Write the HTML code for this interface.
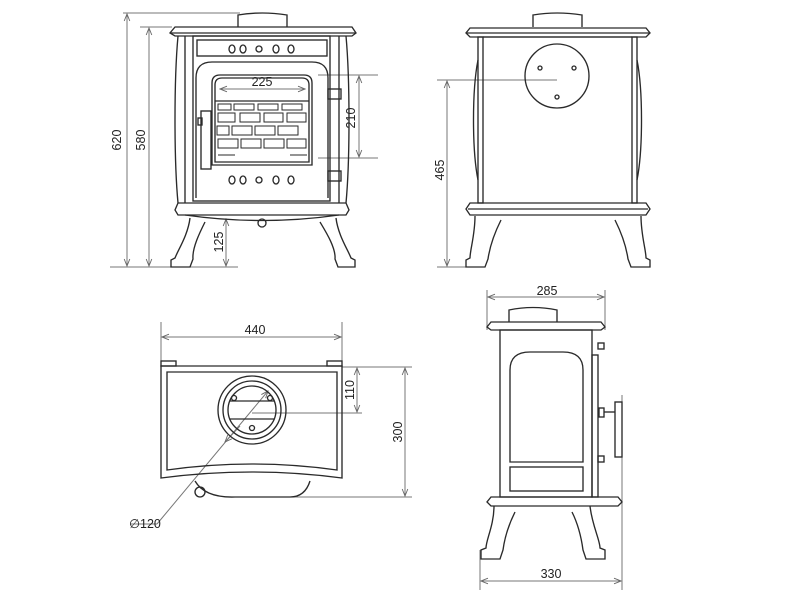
<!DOCTYPE html>
<html><head><meta charset="utf-8"><style>html,body{margin:0;padding:0;background:#fff}svg{display:block}</style></head>
<body>
<svg width="800" height="600" viewBox="0 0 800 600" xmlns="http://www.w3.org/2000/svg" font-family="Liberation Sans, sans-serif">
<defs>
<marker id="a" viewBox="0 0 10 10" refX="10" refY="5" markerWidth="9" markerHeight="7" orient="auto-start-reverse" markerUnits="userSpaceOnUse"><path d="M0,1 L10,5 L0,9" fill="none" stroke="#666" stroke-width="1.3"/></marker>
</defs>
<g fill="none" stroke="#777" stroke-width="1">
<line x1="123" y1="13" x2="240" y2="13"/><line x1="140" y1="27" x2="172" y2="27"/><line x1="110" y1="267" x2="238" y2="267"/>
<line x1="127" y1="14" x2="127" y2="266" marker-start="url(#a)" marker-end="url(#a)"/>
<line x1="149" y1="28" x2="149" y2="266" marker-start="url(#a)" marker-end="url(#a)"/>
<line x1="226" y1="219" x2="226" y2="266" marker-start="url(#a)" marker-end="url(#a)"/>
<line x1="220" y1="89" x2="305" y2="89" marker-start="url(#a)" marker-end="url(#a)"/>
<line x1="318" y1="75" x2="378" y2="75"/><line x1="318" y1="158" x2="378" y2="158"/>
<line x1="359" y1="76" x2="359" y2="157" marker-start="url(#a)" marker-end="url(#a)"/>
<line x1="437" y1="80" x2="557" y2="80"/><line x1="437" y1="267" x2="466" y2="267"/>
<line x1="447" y1="81" x2="447" y2="266" marker-start="url(#a)" marker-end="url(#a)"/>
<line x1="161" y1="322" x2="161" y2="365"/><line x1="342" y1="322" x2="342" y2="365"/>
<line x1="162" y1="337" x2="341" y2="337" marker-start="url(#a)" marker-end="url(#a)"/>
<line x1="342" y1="367" x2="412" y2="367"/><line x1="252" y1="413" x2="362" y2="413"/><line x1="290" y1="497" x2="412" y2="497"/>
<line x1="357" y1="368" x2="357" y2="412" marker-start="url(#a)" marker-end="url(#a)"/>
<line x1="405" y1="368" x2="405" y2="496" marker-start="url(#a)" marker-end="url(#a)"/>
<line x1="157" y1="524" x2="268" y2="391" marker-end="url(#a)"/>
<line x1="240" y1="426" x2="225" y2="442" marker-end="url(#a)"/>
<line x1="130" y1="524" x2="157" y2="524"/>
<line x1="487" y1="290" x2="487" y2="330"/><line x1="605" y1="290" x2="605" y2="330"/>
<line x1="488" y1="297" x2="604" y2="297" marker-start="url(#a)" marker-end="url(#a)"/>
<line x1="480" y1="550" x2="480" y2="590"/><line x1="622" y1="395" x2="622" y2="590"/>
<line x1="481" y1="581" x2="621" y2="581" marker-start="url(#a)" marker-end="url(#a)"/>
</g>
<g fill="#222" font-size="12.5">
<text x="117" y="140" transform="rotate(-90 117 140)" text-anchor="middle" dy="4">620</text>
<text x="141" y="140" transform="rotate(-90 141 140)" text-anchor="middle" dy="4">580</text>
<text x="219" y="242" transform="rotate(-90 219 242)" text-anchor="middle" dy="4">125</text>
<text x="351" y="118" transform="rotate(-90 351 118)" text-anchor="middle" dy="4">210</text>
<text x="262" y="86" text-anchor="middle">225</text>
<text x="440" y="170" transform="rotate(-90 440 170)" text-anchor="middle" dy="4">465</text>
<text x="255" y="334" text-anchor="middle">440</text>
<text x="350" y="390" transform="rotate(-90 350 390)" text-anchor="middle" dy="4">110</text>
<text x="398" y="432" transform="rotate(-90 398 432)" text-anchor="middle" dy="4">300</text>
<text x="145" y="528" text-anchor="middle">∅120</text>
<text x="547" y="295" text-anchor="middle">285</text>
<text x="551" y="578" text-anchor="middle">330</text>
</g>
<g fill="none" stroke="#2a2a2a" stroke-width="1.35">
<path d="M238,27 V15 Q262,11 287,15 V27"/>
<path d="M175,27 H352 L356,33 L352,36 H175 L170,33 Z"/><line x1="171" y1="33" x2="355" y2="33"/>
<path d="M178,36 C174,80 174,160 178,203"/><path d="M346,36 C350,80 350,160 346,203"/>
<line x1="185" y1="36" x2="185" y2="203"/><line x1="339" y1="36" x2="339" y2="203"/>
<rect x="193" y="36" width="137" height="165"/>
<rect x="197" y="40" width="130" height="16"/>
<ellipse cx="232" cy="49" rx="3" ry="4"/><ellipse cx="243" cy="49" rx="3" ry="4"/><circle cx="259" cy="49" r="3"/><ellipse cx="276" cy="49" rx="3" ry="4"/><ellipse cx="291" cy="49" rx="3" ry="4"/>
<ellipse cx="232" cy="180" rx="3" ry="4"/><ellipse cx="243" cy="180" rx="3" ry="4"/><circle cx="259" cy="180" r="3"/><ellipse cx="276" cy="180" rx="3" ry="4"/><ellipse cx="291" cy="180" rx="3" ry="4"/>
<path d="M196,198 V78 Q196,62 212,62 H312 Q328,62 328,78 V198"/>
<path d="M212,165 V83 Q212,75 220,75 H304 Q312,75 312,83 V165 Z"/>
<path d="M215,162 V85 Q215,78 222,78 H302 Q309,78 309,85 V162 Z"/>
<line x1="215" y1="101" x2="309" y2="101"/>
<g stroke-width="1">
<rect x="218" y="113" width="17" height="9"/><rect x="240" y="113" width="20" height="9"/><rect x="264" y="113" width="19" height="9"/><rect x="287" y="113" width="19" height="9"/>
<rect x="217" y="126" width="12" height="9"/><rect x="232" y="126" width="20" height="9"/><rect x="255" y="126" width="20" height="9"/><rect x="278" y="126" width="20" height="9"/>
<rect x="218" y="139" width="20" height="9"/><rect x="241" y="139" width="20" height="9"/><rect x="264" y="139" width="20" height="9"/><rect x="287" y="139" width="19" height="9"/>
<rect x="218" y="104" width="13" height="6"/><rect x="234" y="104" width="20" height="6"/><rect x="258" y="104" width="20" height="6"/><rect x="282" y="104" width="20" height="6"/>
<path d="M218,155 H235 M290,155 H307"/>
</g>
<rect x="201" y="111" width="10" height="58"/><rect x="198" y="118" width="4" height="7"/>
<rect x="328" y="89" width="13" height="10"/><rect x="328" y="171" width="13" height="10"/>
<path d="M178,203 H346 L349,210 L346,215 H178 L175,210 Z"/>
<path d="M185,215 Q262,226 339,215"/>
<circle cx="262" cy="223" r="4"/>
<path d="M190,218 C188,235 178,250 175,258 L171,260 V267 H190 L193,259 C192,248 200,232 205,222"/>
<path d="M336,218 C338,235 348,250 351,258 L355,260 V267 H338 L335,259 C336,248 326,232 320,222"/>
<path d="M533,27 V15 Q557,11 582,15 V27"/>
<path d="M470,28 H646 L650,33 L646,37 H470 L466,33 Z"/><line x1="467" y1="33" x2="649" y2="33"/>
<rect x="478" y="37" width="5" height="166"/><rect x="632" y="37" width="5" height="166"/>
<path d="M478,60 C472,90 472,150 478,180"/><path d="M637,60 C643,90 643,150 637,180"/>
<line x1="483" y1="37" x2="632" y2="37"/>
<circle cx="557" cy="76" r="32"/>
<circle cx="540" cy="68" r="2"/><circle cx="574" cy="68" r="2"/><circle cx="557" cy="97" r="2"/>
<path d="M470,203 H646 L650,209 L646,215 H470 L466,209 Z"/><line x1="468" y1="209" x2="648" y2="209"/>
<path d="M475,216 C475,235 470,250 470,258 L466,260 V267 H485 L488,259 C490,245 495,232 501,220"/>
<path d="M641,216 C641,235 646,250 646,258 L650,260 V267 H631 L628,259 C626,245 621,232 615,220"/>
<rect x="161" y="361" width="15" height="5"/><rect x="327" y="361" width="15" height="5"/>
<path d="M161,366 H342 V478 Q252,466 161,478 Z"/>
<path d="M167,372 H337 V470 Q252,458 167,470 Z"/>
<circle cx="252" cy="410" r="34"/><circle cx="252" cy="410" r="29"/><circle cx="252" cy="410" r="24"/>
<line x1="230" y1="401" x2="274" y2="401"/><line x1="230" y1="419" x2="274" y2="419"/>
<circle cx="234" cy="398" r="2.5"/><circle cx="270" cy="398" r="2.5"/><circle cx="252" cy="428" r="2.5"/>
<path d="M195,481 Q205,498 235,497 H290 Q305,497 310,481"/>
<circle cx="200" cy="492" r="5"/>
<path d="M509,322 V310 Q533,305 557,310 V322"/>
<path d="M491,322 H601 L605,327 L601,330 H491 L487,327 Z"/>
<rect x="500" y="330" width="92" height="167"/>
<rect x="592" y="355" width="6" height="142"/>
<path d="M510,462 V370 Q510,352 530,352 H563 Q583,352 583,370 V462 Z"/>
<rect x="510" y="467" width="73" height="24"/>
<rect x="598" y="343" width="6" height="6"/><rect x="598" y="456" width="6" height="6"/>
<rect x="615" y="402" width="7" height="55"/><rect x="599" y="408" width="5" height="9"/><line x1="604" y1="412" x2="615" y2="412"/>
<path d="M491,497 H618 L622,502 L618,506 H491 L487,502 Z"/>
<path d="M494,506 C494,525 486,540 486,548 L481,550 V559 H500 L503,550 C505,535 510,522 515,512"/>
<path d="M590,506 C592,525 600,540 600,548 L605,550 V559 H586 L583,550 C581,535 577,522 572,512"/>
</g>
</svg>
</body></html>
